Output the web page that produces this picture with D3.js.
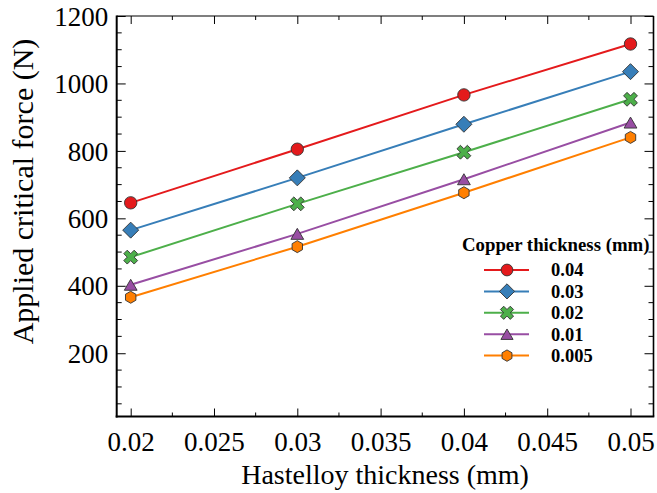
<!DOCTYPE html>
<html>
<head>
<meta charset="utf-8">
<script src="https://cdn.jsdelivr.net/npm/d3@7"></script>
<style>
  html, body { margin: 0; padding: 0; background: #fff; }
  svg { display: block; }
  text { font-family: "Liberation Serif", "Times New Roman", serif; fill: #000; }
</style>
</head>
<body>
<div id="chart"></div>
<script>
// ---------- data ----------
const hastelloy = [0.02, 0.03, 0.04, 0.05];
const seriesNames = ["0.04", "0.03", "0.02", "0.01", "0.005"];
const force004 = [646, 805, 966, 1117];
const force003 = [565, 720, 879, 1035];
const force002 = [485, 643, 796, 953];
const force001 = [403, 554, 716, 884];
const force0005 = [366, 516, 676, 840];
const xTickLabels = ["0.02", "0.025", "0.03", "0.035", "0.04", "0.045", "0.05"];
const yTickLabels = ["200", "400", "600", "800", "1000", "1200"];
const colors = ["#e41a1c", "#377eb8", "#4daf4a", "#984ea3", "#ff7f00"];
const markers = ["circle", "diamond", "x", "triangle", "hexagon"];
const allSeries = [force004, force003, force002, force001, force0005];

// ---------- layout ----------
const W = 657, H = 493;
const mLeft = 116.7, mRight = 653.5, mTop = 16, mBottom = 416.5;

const svg = d3.select("#chart").append("svg").attr("width", W).attr("height", H);

const x = d3.scaleLinear().domain([0.01916, 0.05138]).range([mLeft, mRight]);
const y = d3.scaleLinear().domain([12.4, 1200]).range([mBottom, mTop]);

// marker generator
function markerPath(kind, s) {
  const p = d3.path();
  if (kind === "circle") {
    p.arc(0, 0, 6.2 * s, 0, 2 * Math.PI);
  } else if (kind === "diamond") {
    const a = 8 * s;
    p.moveTo(0, -a); p.lineTo(a, 0); p.lineTo(0, a); p.lineTo(-a, 0); p.closePath();
  } else if (kind === "x") {
    const r = 2.45 * s;
    const pts = [[-r, -3 * r], [r, -3 * r], [r, -r], [3 * r, -r], [3 * r, r], [r, r], [r, 3 * r], [-r, 3 * r], [-r, r], [-3 * r, r], [-3 * r, -r], [-r, -r]];
    const c = Math.SQRT1_2;
    pts.forEach((q, i) => {
      const px = (q[0] - q[1]) * c, py = (q[0] + q[1]) * c;
      if (i === 0) p.moveTo(px, py); else p.lineTo(px, py);
    });
    p.closePath();
  } else if (kind === "triangle") {
    const w = 6.4 * s, h = 5.5 * s;
    p.moveTo(0, -h); p.lineTo(w, h); p.lineTo(-w, h); p.closePath();
  } else if (kind === "hexagon") {
    const r = 6 * s;
    for (let i = 0; i < 6; i++) {
      const ang = -Math.PI / 2 + i * Math.PI / 3;
      const px = r * Math.cos(ang), py = r * Math.sin(ang);
      if (i === 0) p.moveTo(px, py); else p.lineTo(px, py);
    }
    p.closePath();
  }
  return p.toString();
}

// ---------- axes ----------
const xMajor = xTickLabels.map(Number);
const xMinor = d3.range(0.0225, 0.0501, 0.005);
const yMajor = yTickLabels.map(Number);
const yMinor = d3.range(50, 1200.1, 50).filter(v => v % 200 !== 0);

// bottom axis (ticks inward)
const gx = svg.append("g").attr("transform", `translate(0,${mBottom})`)
  .call(d3.axisBottom(x).tickValues(xMajor).tickFormat((d, i) => xTickLabels[i]).tickSize(-8).tickPadding(0).tickSizeOuter(0));
gx.select(".domain").remove();
gx.selectAll(".tick line").attr("stroke", "#000").attr("stroke-width", 1);
gx.selectAll(".tick text").attr("y", 34.5).attr("dy", 0).style("font-size", "27px").style("font-family", "Liberation Serif");
svg.append("g").selectAll("line").data(xMinor).join("line")
  .attr("x1", d => x(d)).attr("x2", d => x(d)).attr("y1", mBottom).attr("y2", mBottom - 4)
  .attr("stroke", "#000");

// top axis ticks
const gt = svg.append("g").attr("transform", `translate(0,${mTop})`)
  .call(d3.axisTop(x).tickValues(xMajor).tickFormat("").tickSize(-8).tickSizeOuter(0));
gt.select(".domain").remove();
svg.append("g").selectAll("line").data(xMinor).join("line")
  .attr("x1", d => x(d)).attr("x2", d => x(d)).attr("y1", mTop).attr("y2", mTop + 4)
  .attr("stroke", "#000");

// left axis
const gy = svg.append("g").attr("transform", `translate(${mLeft},0)`)
  .call(d3.axisLeft(y).tickValues(yMajor).tickFormat((d, i) => yTickLabels[i]).tickSize(-9).tickPadding(0).tickSizeOuter(0));
gy.select(".domain").remove();
gy.selectAll(".tick text").attr("x", -8.5).attr("dy", "0.34em").style("font-size", "27px").style("font-family", "Liberation Serif");
svg.append("g").selectAll("line").data(yMinor).join("line")
  .attr("x1", mLeft).attr("x2", mLeft + 5).attr("y1", d => y(d)).attr("y2", d => y(d))
  .attr("stroke", "#000");

// right axis
const gr = svg.append("g").attr("transform", `translate(${mRight},0)`)
  .call(d3.axisRight(y).tickValues(yMajor).tickFormat("").tickSize(-9).tickSizeOuter(0));
gr.select(".domain").remove();
svg.append("g").selectAll("line").data(yMinor).join("line")
  .attr("x1", mRight).attr("x2", mRight - 5).attr("y1", d => y(d)).attr("y2", d => y(d))
  .attr("stroke", "#000");

// frame
svg.append("line").attr("x1", mLeft).attr("x2", mRight).attr("y1", mTop).attr("y2", mTop).attr("stroke", "#000").attr("stroke-width", 1.2);
svg.append("line").attr("x1", mRight).attr("x2", mRight).attr("y1", mTop).attr("y2", mBottom).attr("stroke", "#000").attr("stroke-width", 1.6);
svg.append("line").attr("x1", mLeft).attr("x2", mLeft).attr("y1", mTop - 0.5).attr("y2", mBottom + 1).attr("stroke", "#000").attr("stroke-width", 2);
svg.append("line").attr("x1", mLeft - 1).attr("x2", mRight + 0.8).attr("y1", mBottom).attr("y2", mBottom).attr("stroke", "#000").attr("stroke-width", 2);

// ---------- series ----------
const line = d3.line().x((d, i) => x(hastelloy[i])).y(d => y(d));
allSeries.forEach((vals, si) => {
  svg.append("path").datum(vals).attr("d", line)
    .attr("fill", "none").attr("stroke", colors[si]).attr("stroke-width", 2);
});
allSeries.forEach((vals, si) => {
  svg.append("g").selectAll("path").data(vals).join("path")
    .attr("d", markerPath(markers[si], 1))
    .attr("transform", (d, i) => `translate(${x(hastelloy[i])},${y(d)})`)
    .attr("fill", colors[si]).attr("stroke", "#333").attr("stroke-width", 0.9);
});

// ---------- axis titles ----------
svg.append("text").attr("x", (mLeft + mRight) / 2).attr("y", 484)
  .attr("text-anchor", "middle").style("font-size", "28px").text("Hastelloy thickness (mm)");
svg.append("text").attr("transform", "translate(33,191.5) rotate(-90)")
  .attr("text-anchor", "middle").style("font-size", "30px").text("Applied critical force (N)");

// ---------- legend ----------
const lg = svg.append("g");
lg.append("text").attr("x", 462).attr("y", 251).style("font-size", "18.8px").style("font-weight", "bold")
  .text("Copper thickness (mm)");
seriesNames.forEach((name, i) => {
  const cy = 270 + i * 21.4;
  lg.append("line").attr("x1", 484).attr("x2", 529).attr("y1", cy).attr("y2", cy)
    .attr("stroke", colors[i]).attr("stroke-width", 2);
  lg.append("path").attr("d", markerPath(markers[i], 0.95)).attr("transform", `translate(507,${cy})`)
    .attr("fill", colors[i]).attr("stroke", "#333").attr("stroke-width", 0.9);
  lg.append("text").attr("x", 551).attr("y", cy + 6.3).style("font-size", "18.5px").style("font-weight", "bold").text(name);
});
</script>
</body>
</html>
